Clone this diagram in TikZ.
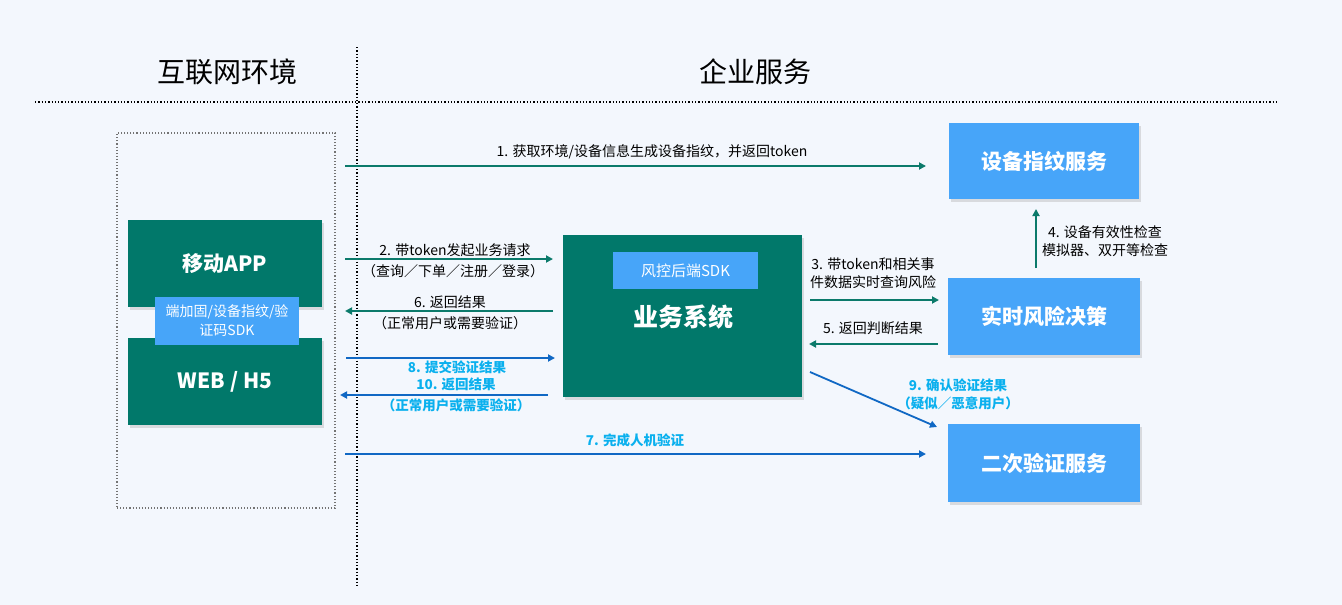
\documentclass[tikz,border=0pt]{standalone}
\usepackage{fontspec}
\setmainfont{Noto Sans CJK SC}
\usetikzlibrary{shadows,arrows.meta}
\definecolor{bgc}{HTML}{F3F7FD}
\definecolor{tealbox}{HTML}{01786A}
\definecolor{bluebox}{HTML}{47A5F9}
\definecolor{arrteal}{HTML}{0B7A6B}
\definecolor{arrblue}{HTML}{1068C4}
\definecolor{cyantext}{HTML}{0AB0EE}
\tikzset{
  shad/.style={drop shadow={shadow xshift=2pt,shadow yshift=-3pt,opacity=0.35,fill=gray!70}},
  tbox/.style={fill=tealbox,inner sep=0pt,text=white,shad,font=\fontsize{21}{24}\selectfont\bfseries},
  bbox/.style={fill=bluebox,inner sep=0pt,text=white,shad,font=\fontsize{21}{24}\selectfont\bfseries},
  ta/.style={draw=arrteal,line width=1.8pt,-{Triangle[length=7pt,width=7pt]}},
  ba/.style={draw=arrblue,line width=1.8pt,-{Triangle[length=7pt,width=7pt]}},
  lab/.style={font=\fontsize{14}{18}\selectfont,text=black,align=center,inner sep=0pt},
  clab/.style={font=\fontsize{13.5}{18}\selectfont\bfseries,text=cyantext,align=center,inner sep=0pt},
  ttl/.style={font=\fontsize{28}{30}\selectfont,text=black,inner sep=0pt},
}
\begin{document}
\begin{tikzpicture}[x=1pt,y=-1pt]
\useasboundingbox[fill=bgc] (0,0) rectangle (1342,605);
% divider lines
\coordinate (vtop) at (357,47);
\coordinate (vbot) at (357,585);
\coordinate (hl) at (35,102);
\coordinate (hr) at (1278,102);
\draw[black,line width=1.3pt,dotted] (vtop) -- (vbot);
\draw[black,line width=1.3pt,dotted] (hl) -- (hr);
\node[ttl] (t1) at (227,72) {互联网环境};
\node[ttl] (t2) at (755,72) {企业服务};
% client container
\node[draw=gray!90!black,dotted,line width=1.1pt,minimum width=218pt,minimum height=375pt,inner sep=0pt] (cont) at (226,320.5) {};
\node[tbox,minimum width=194pt,minimum height=87pt] (app) at (225,263.5) {移动APP};
\node[tbox,minimum width=194pt,minimum height=87pt] (web) at (225,381.5) {WEB / H5};
\node[fill=bluebox,inner sep=0pt,minimum width=144pt,minimum height=48pt,text=white,align=center,font=\fontsize{14}{19}\selectfont] (sdk) at (227,321) {端加固/设备指纹/验\\证码SDK};
% business system
\node[tbox,minimum width=239pt,minimum height=162pt] (biz) at (682.5,316) {};
\node[fill=bluebox,inner sep=0pt,minimum width=145pt,minimum height=37pt,text=white,font=\fontsize{15}{18}\selectfont] (rsdk) at (685.5,270.5) {风控后端SDK};
\node[text=white,font=\fontsize{25}{28}\selectfont\bfseries,inner sep=0pt] (bizt) at (683,317) {业务系统};
% services
\node[bbox,minimum width=190pt,minimum height=76pt] (fp) at (1044,161) {设备指纹服务};
\node[bbox,minimum width=192pt,minimum height=77pt] (risk) at (1044,316.5) {实时风险决策};
\node[bbox,minimum width=192pt,minimum height=78pt] (sec) at (1044,463) {二次验证服务};
% arrow 1
\coordinate (a1s) at (345,166);
\coordinate (a1e) at (926,166);
\draw[ta] (a1s) -- (a1e);
\node[lab] (l1) at (652,152) {1. 获取环境/设备信息生成设备指纹，并返回token};
% arrow 2
\coordinate (a2s) at (345,259);
\coordinate (a2e) at (553,259);
\draw[ta] (a2s) -- (a2e);
\node[lab] (l2a) at (455,250) {2. 带token发起业务请求};
\node[lab] (l2b) at (453,271) {（查询／下单／注册／登录）};
% arrow 6
\coordinate (a6s) at (553,311);
\coordinate (a6e) at (345,311);
\draw[ta] (a6s) -- (a6e);
\node[lab] (l6a) at (450,302) {6. 返回结果};
\node[lab] (l6b) at (450,323) {（正常用户或需要验证）};
% arrow 8
\coordinate (a8s) at (346,358);
\coordinate (a8e) at (555,358);
\draw[ba] (a8s) -- (a8e);
\node[clab] (l8) at (457,367) {8. 提交验证结果};
% arrow 10
\coordinate (a10s) at (548,395);
\coordinate (a10e) at (340,395);
\draw[ba] (a10s) -- (a10e);
\node[clab] (l10a) at (456,384) {10. 返回结果};
\node[clab] (l10b) at (456,405) {（正常用户或需要验证）};
% arrow 3
\coordinate (a3s) at (810,300);
\coordinate (a3e) at (939,300);
\draw[ta] (a3s) -- (a3e);
\node[lab] (l3) at (873,273) {3. 带token和相关事\\件数据实时查询风险};
% arrow 5
\coordinate (a5s) at (938,344);
\coordinate (a5e) at (809,344);
\draw[ta] (a5s) -- (a5e);
\node[lab] (l5) at (873,328) {5. 返回判断结果};
% arrow 4
\coordinate (a4s) at (1036,268);
\coordinate (a4e) at (1036,209);
\draw[ta] (a4s) -- (a4e);
\node[lab] (l4) at (1105,241) {4. 设备有效性检查\\模拟器、双开等检查};
% arrow 9
\coordinate (a9s) at (810,372);
\coordinate (a9e) at (937,427);
\draw[ba] (a9s) -- (a9e);
\node[clab] (l9) at (958,394) {9. 确认验证结果\\（疑似／恶意用户）};
% arrow 7
\coordinate (a7s) at (345,454);
\coordinate (a7e) at (926,454);
\draw[ba] (a7s) -- (a7e);
\node[clab] (l7) at (635,440) {7. 完成人机验证};
\end{tikzpicture}
\end{document}
